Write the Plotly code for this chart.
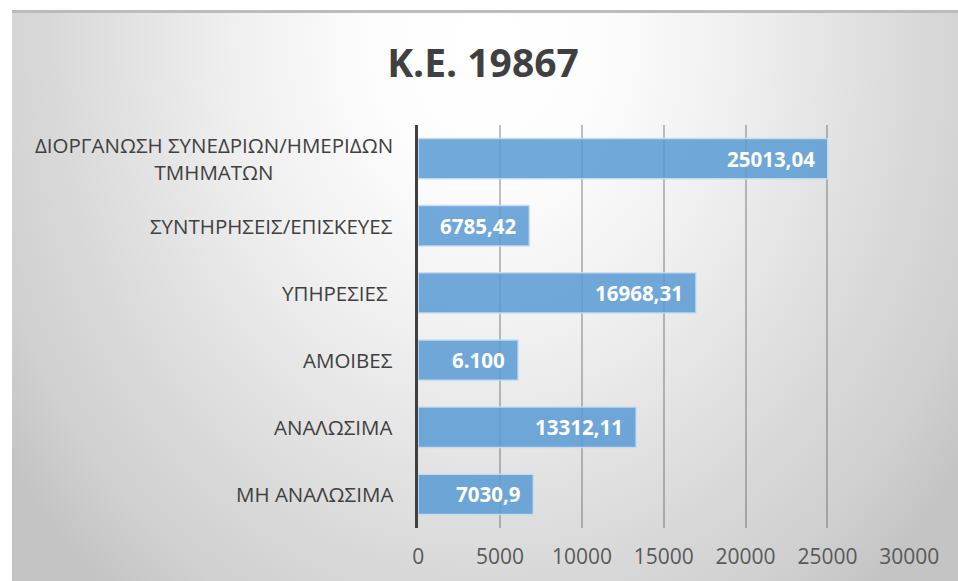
import plotly.graph_objects as go

# ---- data (top-to-bottom order as displayed) ----
categories = [
    "ΔΙΟΡΓΑΝΩΣΗ ΣΥΝΕΔΡΙΩΝ/ΗΜΕΡΙΔΩΝ<br>ΤΜΗΜΑΤΩΝ",
    "ΣΥΝΤΗΡΗΣΕΙΣ/ΕΠΙΣΚΕΥΕΣ",
    "ΥΠΗΡΕΣΙΕΣ ",
    "ΑΜΟΙΒΕΣ",
    "ΑΝΑΛΩΣΙΜΑ",
    "ΜΗ ΑΝΑΛΩΣΙΜΑ",
]
values = [25013.04, 6785.42, 16968.31, 6100, 13312.11, 7030.9]
value_labels = ["25013,04", "6785,42", "16968,31", "6.100", "13312,11", "7030,9"]
x_ticks = [0, 5000, 10000, 15000, 20000, 25000, 30000]
title_text = "Κ.Ε. 19867"

SW, H = 958, 581          # screen size
W = 990                   # layout width (screen shows it at 958)
def px_x(p):              # screen pixel -> paper fraction
    return p / SW
def px_y(p):
    return (H - p) / H

fig = go.Figure()

# background radial gradient (full-frame helper axes, drawn first)
fig.add_trace(go.Scatter(
    x=[-0.5, 1.5, 1.5, -0.5, -0.5],
    y=[-1.1, -1.1, 3.0, 3.0, -1.1],
    mode="lines", line=dict(width=0), fill="toself",
    fillgradient=dict(type="radial", colorscale=[
        [0.0, "#ffffff"], [0.12, "#fdfdfd"], [0.27, "#efefef"],
        [0.456, "#d9d9d9"], [0.546, "#d0d0d0"], [0.62, "#c4c4c4"],
        [1.0, "#c2c2c2"]]),
    hoverinfo="skip", showlegend=False, xaxis="x", yaxis="y",
))

fig.add_trace(go.Bar(
    y=categories, x=values, orientation="h",
    marker=dict(color="rgba(91,155,213,0.86)",
                line=dict(color="rgba(200,222,242,0.9)", width=1.5)),
    hoverinfo="skip", showlegend=False, xaxis="x2", yaxis="y2",
))

annotations = []
for c, v, t in zip(categories, values, value_labels):
    annotations.append(dict(
        x=v, y=c, xref="x2", yref="y2", text=t, showarrow=False,
        xanchor="right", yanchor="middle", xshift=-11,
        font=dict(family="Open Sans", size=20.5, color="white", weight="bold"),
    ))
    annotations.append(dict(
        x=px_x(391), y=c, xref="paper", yref="y2", text=c, showarrow=False,
        xanchor="right", yanchor="middle", align="center",
        font=dict(family="Open Sans", size=20.5, color="#404040"),
    ))

fig.update_layout(
    width=W, height=H, autosize=False,
    margin=dict(l=0, r=0, t=0, b=0),
    paper_bgcolor="white",
    plot_bgcolor="rgba(0,0,0,0)",
    title=dict(text=title_text, x=px_x(479), xref="paper", xanchor="center",
               y=px_y(63), yref="paper", yanchor="middle",
               font=dict(family="Open Sans", size=39, color="#404040", weight="bold")),
    xaxis=dict(domain=[px_x(6), 1], range=[0, 1], visible=False, fixedrange=True),
    yaxis=dict(domain=[0, px_y(11)], range=[0, 1], visible=False, fixedrange=True),
    xaxis2=dict(domain=[px_x(414), px_x(907)], range=[0, 30000], anchor="y2",
                tickvals=x_ticks, ticktext=[str(t) for t in x_ticks],
                showgrid=True, gridcolor="rgba(90,90,90,0.38)", gridwidth=2,
                zeroline=False, showline=False, ticks="",
                ticklabelstandoff=14,
                tickfont=dict(family="Open Sans", size=21, color="#595959")),
    yaxis2=dict(domain=[px_y(528), px_y(125)], anchor="x2", type="category",
                autorange="reversed", showticklabels=False, showgrid=False,
                zeroline=False, showline=True, linecolor="#404040", linewidth=3,
                ticks=""),
    bargap=0.4,
    annotations=annotations,
    shapes=[dict(type="line", xref="paper", yref="paper",
                 x0=px_x(6), x1=1, y0=px_y(11.5), y1=px_y(11.5),
                 line=dict(color="#bcbcbc", width=3))],
)

post = (
    "document.body.style.margin='0';"
    "document.body.style.overflow='hidden';"
)

fig.write_html(
    "out.html",
    config={"displayModeBar": False},
    post_script=post,
)
